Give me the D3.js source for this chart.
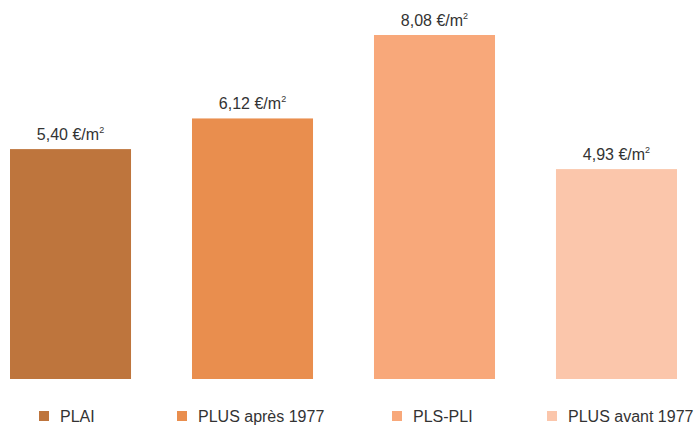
<!DOCTYPE html>
<html>
<head>
<meta charset="utf-8">
<script src="https://cdn.jsdelivr.net/npm/d3@7"></script>
<style>
  html, body { margin: 0; padding: 0; background: #fff; }
  text { font-family: "Liberation Sans", Arial, Helvetica, sans-serif; fill: #333; }
</style>
</head>
<body>
<svg id="chart" width="696" height="425"></svg>
<script>
// Loyer moyen par type de financement (€/m²)
const categories = ["PLAI", "PLUS après 1977", "PLS-PLI", "PLUS avant 1977"];
const values = [5.40, 6.12, 8.08, 4.93];
const colors = ["#BE753D", "#E98E4E", "#F8A87A", "#FBC6AB"];
const unitLabel = " €/m";

const svg = d3.select("#chart");

const x = d3.scaleBand()
  .domain(categories)
  .range([10, 677])
  .paddingInner(0.335)
  .paddingOuter(0);

const y = d3.scaleLinear()
  .domain([0, 8.08])
  .range([379, 35]);

const fmt = v => d3.format(".2f")(v).replace(".", ",");

// Bars
svg.append("g").selectAll("rect")
  .data(categories)
  .join("rect")
  .attr("x", d => x(d))
  .attr("width", x.bandwidth())
  .attr("y", (d, i) => y(values[i]))
  .attr("height", (d, i) => y(0) - y(values[i]))
  .attr("fill", (d, i) => colors[i]);

// Value labels
const lbl = svg.append("g").selectAll("text")
  .data(categories)
  .join("text")
  .attr("x", d => x(d) + x.bandwidth() / 2)
  .attr("y", (d, i) => y(values[i]) - 9)
  .attr("text-anchor", "middle")
  .attr("font-size", 16);
lbl.append("tspan").text((d, i) => fmt(values[i]) + unitLabel);
lbl.append("tspan").attr("font-size", 9).attr("dy", -7).text("2");

// Legend
const legendX = [39, 177, 392, 547];
const lg = svg.append("g").selectAll("g")
  .data(categories)
  .join("g")
  .attr("transform", (d, i) => `translate(${legendX[i]},411)`);
lg.append("rect")
  .attr("width", 10).attr("height", 10)
  .attr("fill", (d, i) => colors[i]);
lg.append("text")
  .attr("x", 21).attr("y", 10.5)
  .attr("font-size", 16)
  .text(d => d);
</script>
</body>
</html>
